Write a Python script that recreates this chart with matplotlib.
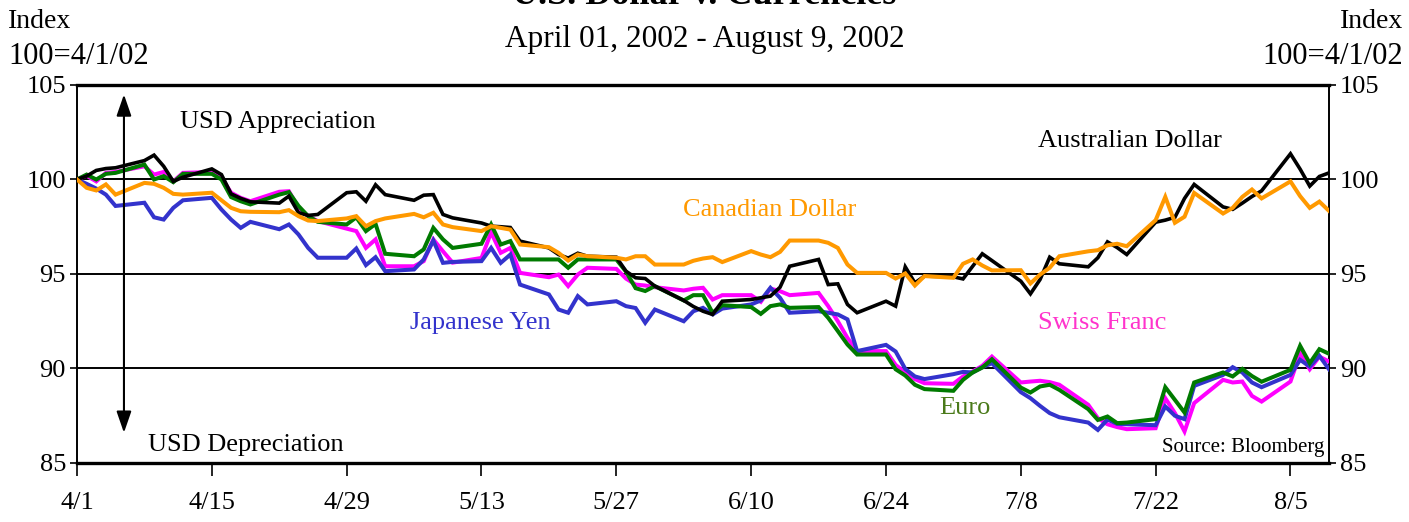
import matplotlib
matplotlib.use("Agg")
import matplotlib.pyplot as plt
import numpy as np
import pandas as pd

plt.rcParams['font.family'] = ['Liberation Serif', 'DejaVu Serif']

# ---------------- data ----------------
dates = pd.bdate_range("2002-04-01", "2002-08-09")

aud = [100, 100.18, 100.48, 100.58, 100.62,
       101.0, 101.29, 100.7, 99.9, 100.12,
       100.56, 100.26, 99.24, 99.0, 98.82,
       98.75, 99.12, 98.24, 98.1, 98.15,
       99.3, 99.35, 98.85, 99.72, 99.2,
       98.9, 99.17, 99.2, 98.15, 97.97,
       97.7, 97.53, 97.5, 97.46, 96.74,
       96.38, 96.03, 95.84, 96.1, 95.94,
       95.89, 95.15, 94.8, 94.76, 94.36,
       93.6, 93.28, 93.03, 92.86, 93.56,
       93.65, 93.74, 93.83, 94.3, 95.41,
       95.77, 94.44, 94.48, 93.39, 92.95,
       93.56, 93.3, 95.38, 94.53, 94.89,
       94.85, 94.74, 95.41, 96.07, 95.71,
       94.62, 93.95, 94.71, 95.89, 95.54,
       95.38, 95.86, 96.7, 96.4, 96.03,
       97.74, 97.85, 98.0, 99.0, 99.74,
       98.55, 98.42, 98.75, 99.1, 99.4,
       101.36, 100.55, 99.65, 100.16, 100.35]

cad = [100, 99.56, 99.42, 99.74, 99.2,
       99.82, 99.77, 99.56, 99.24, 99.2,
       99.3, 98.9, 98.5, 98.32, 98.29,
       98.27, 98.38, 98.06, 97.83, 97.8,
       97.94, 98.06, 97.53, 97.8, 97.94,
       98.18, 98.0, 98.24, 97.62, 97.48,
       97.27, 97.53, 97.44, 97.35, 96.56,
       96.42, 96.12, 95.71, 96.03, 95.94,
       95.86, 95.77, 95.94, 95.94, 95.5,
       95.5, 95.7, 95.82, 95.89, 95.63,
       96.21, 96.03, 95.89, 96.17, 96.77,
       96.77, 96.65, 96.38, 95.5, 95.06,
       95.06, 94.76, 95.03, 94.39, 94.89,
       94.8, 95.54, 95.77, 95.45, 95.19,
       95.2, 94.5, 94.97, 95.33, 95.94,
       96.2, 96.26, 96.52, 96.6, 96.47,
       97.85, 99.08, 97.71, 98.03, 99.29,
       98.2, 98.5, 99.08, 99.47, 99.0,
       99.9, 99.12, 98.5, 98.83, 98.34]

eur = [100, 100.26, 100.0, 100.3, 100.35,
       100.79, 100.0, 100.18, 99.86, 100.3,
       100.3, 100.0, 99.07, 98.85, 98.68,
       99.2, 99.33, 98.6, 98.06, 97.76,
       97.62, 98.0, 97.27, 97.65, 96.07,
       95.94, 96.3, 97.44, 96.83, 96.38,
       96.6, 97.62, 96.56, 96.74, 95.77,
       95.77, 95.77, 95.33, 95.77, 95.77,
       95.77, 95.13, 94.25, 94.1, 94.36,
       93.6, 93.88, 93.88, 92.95, 93.35,
       93.25, 92.89, 93.3, 93.39, 93.21,
       93.25, 92.68, 91.98, 91.27, 90.74,
       90.74, 89.96, 89.63, 89.14, 88.91,
       88.82, 89.4, 89.79, 90.05, 90.49,
       88.99, 88.73, 89.05, 89.14, 88.87,
       87.85, 87.28, 87.46, 87.11, 87.14,
       87.32, 89.01, 88.34, 87.67, 89.26,
       89.79, 89.58, 89.98, 89.6, 89.3,
       89.93, 91.2, 90.28, 91.02, 90.78]

chf = [100, 100.2, 99.9, 100.35, 100.4,
       100.7, 100.26, 100.4, 99.9, 100.35,
       100.4, 100.1, 99.3, 99.03, 98.85,
       99.35, 99.38, 98.5, 98.06, 97.8,
       97.4, 97.27, 96.38, 96.83, 95.41,
       95.41, 95.68, 96.83, 96.2, 95.6,
       95.85, 97.2, 96.12, 96.38, 95.06,
       94.83, 94.97, 94.36, 94.97, 95.33,
       95.27, 94.76, 94.44, 94.39, 94.3,
       94.13, 94.22, 94.27, 93.65, 93.88,
       93.88, 93.53, 94.23, 94.09, 93.88,
       94.0, 93.3, 92.5, 91.62, 90.92,
       90.92, 90.19, 89.79, 89.44, 89.22,
       89.19, 89.58, 89.84, 90.14, 90.63,
       89.26, 89.31, 89.35, 89.28, 89.14,
       88.08, 87.37, 87.05, 86.9, 86.79,
       86.84, 88.43, 87.64, 86.67, 88.17,
       89.4, 89.26, 89.31, 88.55, 88.25,
       89.31, 90.78, 89.96, 90.63, 90.37]

jpy = [100, 99.77, 99.52, 99.2, 98.6,
       98.77, 98.0, 97.88, 98.5, 98.9,
       99.03, 98.41, 97.88, 97.44, 97.76,
       97.37, 97.62, 97.09, 96.38, 95.86,
       95.86, 96.35, 95.47, 95.89, 95.15,
       95.24, 95.77, 96.77, 95.59, 95.64,
       95.68, 96.38, 95.59, 96.03, 94.44,
       93.92, 93.12, 92.95, 93.83, 93.39,
       93.56, 93.3, 93.2, 92.42, 93.12,
       92.5, 93.03, 93.21, 92.86, 93.17,
       93.39, 93.6, 94.27, 93.74, 92.95,
       93.03, 92.95, 92.86, 92.6, 90.92,
       91.25, 90.9, 89.98, 89.58, 89.44,
       89.7, 89.82, 89.79, 90.07, 90.28,
       88.75, 88.43, 88.02, 87.64, 87.42,
       87.14, 86.75, 87.3, 87.07, 87.05,
       87.0, 87.99, 87.5, 87.32, 89.08,
       89.66, 90.07, 89.79, 89.26, 89.01,
       89.66, 90.46, 90.1, 90.67, 89.96]

tick_dates = pd.date_range("2002-04-01", "2002-08-05", freq="14D")
tick_labels = ["4/1", "4/15", "4/29", "5/13", "5/27", "6/10", "6/24", "7/8", "7/22", "8/5"]
y_ticks = [85, 90, 95, 100, 105]
grid_levels = [90, 95, 100]

series = [
    ("Swiss Franc", chf, "#FF00FF"),
    ("Japanese Yen", jpy, "#3333CC"),
    ("Euro", eur, "#007A00"),
    ("Australian Dollar", aud, "#000000"),
    ("Canadian Dollar", cad, "#FF9900"),
]

# ---------------- figure ----------------
W, H = 1409, 522
fig = plt.figure(figsize=(W / 100, H / 100), dpi=100)
ax = fig.add_axes([77 / W, 59 / H, (1329 - 77) / W, (463 - 85) / H])

for name, vals, col in series:
    lw = 2.6 if name == "Australian Dollar" else 2.9
    ax.plot(dates, vals, color=col, lw=lw, solid_joinstyle='miter', zorder=3)

for g in grid_levels:
    ax.axhline(g, color="black", lw=1.4, zorder=1)

ax.set_xlim(pd.Timestamp("2002-04-01"), pd.Timestamp("2002-08-09"))
ax.set_ylim(85, 105)
ax.set_yticks(y_ticks)
ax.set_yticklabels([str(t) for t in y_ticks])
ax.set_xticks(tick_dates)
ax.set_xticklabels(tick_labels)

ax.tick_params(axis='x', direction='out', length=9, width=1.2, pad=12, labelsize=19)
ax.tick_params(axis='y', direction='out', length=5, width=1.2, pad=3, labelsize=19)
for s in ['top', 'bottom']:
    ax.spines[s].set_linewidth(2.4)
for s in ['left', 'right']:
    ax.spines[s].set_linewidth(1.4)

ax2 = ax.twinx()
ax2.set_ylim(85, 105)
ax2.set_yticks(y_ticks)
ax2.set_yticklabels([str(t) for t in y_ticks])
ax2.tick_params(axis='y', direction='out', length=5, width=1.2, pad=3, labelsize=19)
for s in ax2.spines.values():
    s.set_visible(False)

# arrow
ax.annotate('', xy=(0.0375, 0.975), xytext=(0.0375, 0.08), xycoords='axes fraction',
            arrowprops=dict(arrowstyle='<|-|>,head_length=1.3,head_width=0.45',
                            color='black', lw=1.5, shrinkA=0, shrinkB=0))

tk = dict(transform=ax.transAxes, fontsize=19, va='center')
ax.text(0.082, 0.902, "USD Appreciation", color='black', ha='left', **tk)
ax.text(0.057, 0.048, "USD Depreciation", color='black', ha='left', **tk)
ax.text(0.7676, 0.852, "Australian Dollar", color='black', ha='left', **tk)
ax.text(0.484, 0.669, "Canadian Dollar", color='#FF9900', ha='left', **tk)
ax.text(0.266, 0.37, "Japanese Yen", color='#3333CC', ha='left', **tk)
ax.text(0.7676, 0.37, "Swiss Franc", color='#FF33CC', ha='left', **tk)
ax.text(0.689, 0.145, "Euro", color='#4A7A1A', ha='left', **tk)
ax.text(0.996, 0.042, "Source: Bloomberg", color='black', ha='right',
        transform=ax.transAxes, fontsize=15, va='center')

# header texts
fig.text(0.5, 1 - 4 / H, "U.S. Dollar v. Currencies", ha='center', va='baseline',
         fontsize=26, fontweight='bold')
fig.text(0.5, 1 - 40 / H, "April 01, 2002 - August 9, 2002", ha='center', va='center', fontsize=22.5)
fig.text(8 / W, 1 - 21 / H, "Index", ha='left', va='center', fontsize=20)
fig.text(8 / W, 1 - 56 / H, "100=4/1/02", ha='left', va='center', fontsize=22)
fig.text(1403 / W, 1 - 21 / H, "Index", ha='right', va='center', fontsize=20)
fig.text(1403 / W, 1 - 56 / H, "100=4/1/02", ha='right', va='center', fontsize=22)

fig.savefig("out.png", dpi=100)
